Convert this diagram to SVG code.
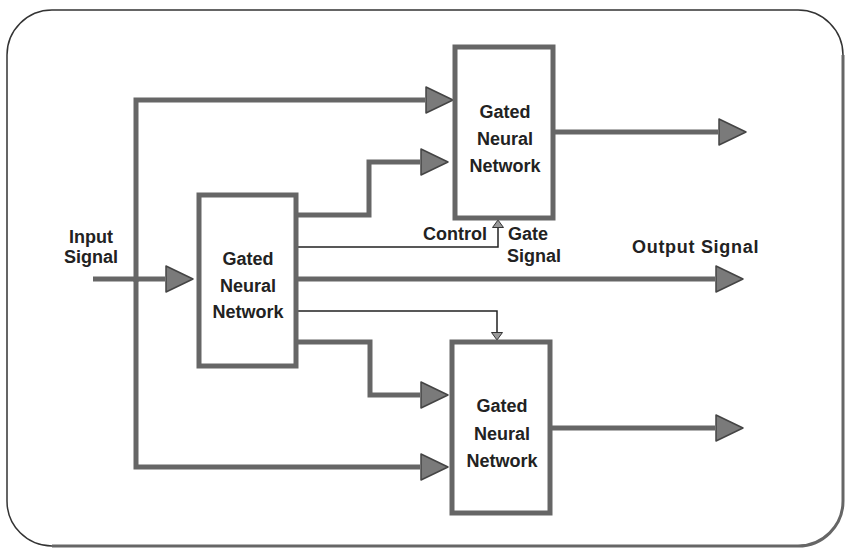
<svg xmlns="http://www.w3.org/2000/svg" width="845" height="549" viewBox="0 0 845 549">
<style>
.frame{fill:none;stroke:#333;stroke-width:1.5}
.frame2{fill:none;stroke:#666;stroke-width:3}
.box{fill:#fff;stroke:#666;stroke-width:5}
.thick{fill:none;stroke:#666;stroke-width:5;marker-end:url(#big)}
.thin{fill:none;stroke:#222;stroke-width:1.5;marker-end:url(#small)}
text{font-family:"Liberation Sans",Arial,Helvetica,sans-serif;font-size:18px;font-weight:bold;fill:#222}
.c{text-anchor:middle}
</style>
<defs>
<marker id="big" markerUnits="userSpaceOnUse" markerWidth="30" markerHeight="30" refX="0" refY="14" orient="auto" viewBox="0 0 30 30">
<path d="M1,1 L28,14 L1,27 Z" fill="#7a7a7a" stroke="#444" stroke-width="1.5" stroke-linejoin="round"/>
</marker>
<marker id="small" markerUnits="userSpaceOnUse" markerWidth="9" markerHeight="13" refX="0" refY="6" orient="auto" viewBox="0 0 9 13">
<path d="M0.5,0.5 L8,6 L0.5,11.5 Z" fill="#999" stroke="#333" stroke-width="1"/>
</marker>
</defs>
<rect class="frame" x="7" y="10" width="836" height="536" rx="45" ry="45"/>
<path class="frame2" d="M843,55 V501 A45,45 0 0 1 798,546 H52"/>
<g id="connectors">
<path class="thick" d="M93,279 H165"/>
<path class="thick" d="M136,282 V100 H425"/>
<path class="thick" d="M136,278 V467 H420"/>
<path class="thick" d="M298,215 H369 V162 H420"/>
<path class="thick" d="M298,342 H370 V395 H420"/>
<path class="thick" d="M298,279 H715"/>
<path class="thick" d="M555,132 H718"/>
<path class="thick" d="M552,428 H715"/>
<path class="thin" d="M298,247 H498 V228"/>
<path class="thin" d="M298,311 H497 V332"/>
</g>
<g id="gnn-middle">
<rect class="box" x="199" y="195" width="97" height="171"/>
<text class="c" x="248" y="265">Gated</text>
<text class="c" x="248" y="292">Neural</text>
<text class="c" x="248" y="318">Network</text>
</g>
<g id="gnn-top">
<rect class="box" x="455" y="47" width="98" height="171"/>
<text class="c" x="505" y="118">Gated</text>
<text class="c" x="505" y="145">Neural</text>
<text class="c" x="505" y="172">Network</text>
</g>
<g id="gnn-bottom">
<rect class="box" x="452" y="342" width="98" height="171"/>
<text class="c" x="502" y="412">Gated</text>
<text class="c" x="502" y="440">Neural</text>
<text class="c" x="502" y="467">Network</text>
</g>
<g id="labels">
<text class="c" x="91" y="243">Input</text>
<text class="c" x="91" y="263">Signal</text>
<text x="487" y="240" text-anchor="end">Control</text>
<text x="508" y="240">Gate</text>
<text x="507" y="262">Signal</text>
<text x="632" y="253" letter-spacing="0.7">Output Signal</text>
</g>
</svg>
